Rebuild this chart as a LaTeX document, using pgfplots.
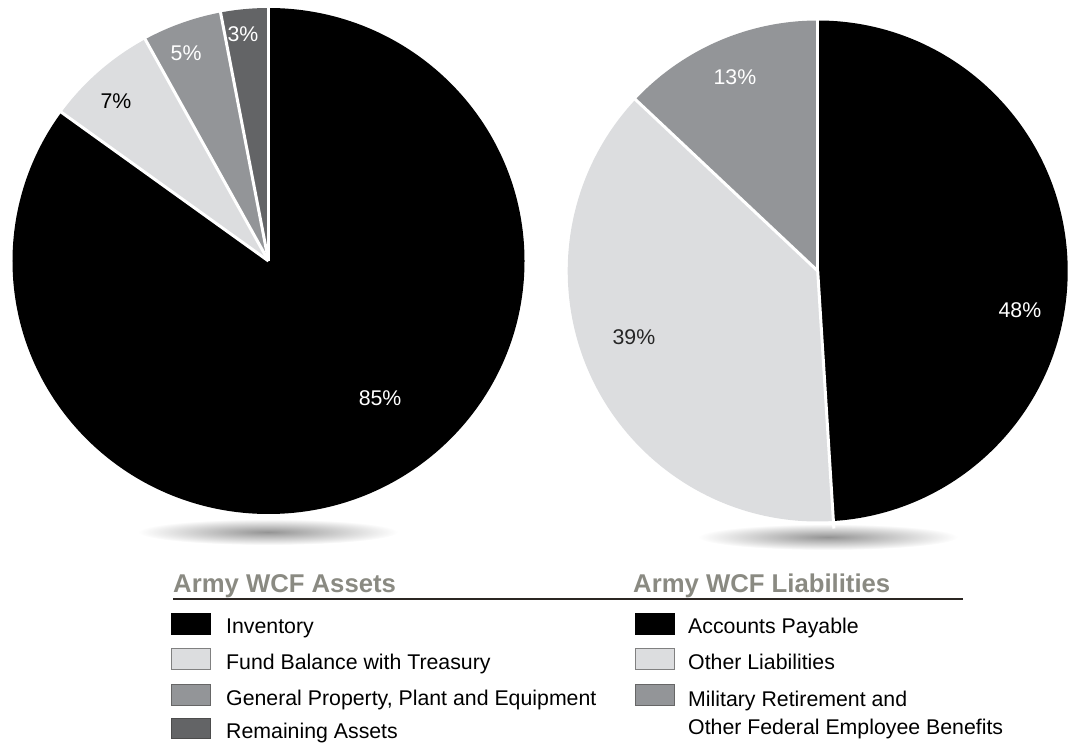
\documentclass[border=0pt]{standalone}
\usepackage{pgfplots}
\pgfplotsset{compat=1.18}
\usepackage{fontspec}
\setmainfont{Liberation Sans}
\definecolor{lightg}{HTML}{DCDDDF}
\definecolor{midg}{HTML}{939598}
\definecolor{darkg}{HTML}{636466}
\definecolor{titleg}{HTML}{8A8A82}
\definecolor{rulec}{HTML}{2B2622}
% #1 = cumulative percent before the slice, #2 = slice percent, #3 = colour
\newcommand{\pieslice}[3]{\fill[#3] (axis cs:0,0) -- (axis cs:{cos(90-3.6*#1)},{sin(90-3.6*#1)}) arc[start angle={90-3.6*#1}, end angle={90-3.6*(#1+#2)}, x radius=\prx, y radius=\pry] -- cycle;}
\newcommand{\piesep}[1]{\draw[white, line width=3pt] (axis cs:0,0) -- (axis cs:{1.03*cos(90-3.6*#1)},{1.03*sin(90-3.6*#1)});}
\newcommand{\lblfont}{\fontsize{21.3}{25}\selectfont}
\begin{document}
\begin{tikzpicture}[x=1pt,y=1pt]
\useasboundingbox (0,0) rectangle (1071,742);
% shadows
\shade[inner color=black!42, outer color=white] (268,210) ellipse [x radius=130, y radius=13];
\shade[inner color=black!42, outer color=white] (828,205) ellipse [x radius=130, y radius=13];
% ---- Assets pie ----
\def\prx{256pt}\def\pry{253pt}
\begin{axis}[hide axis, scale only axis, width=512pt, height=506pt,
  xmin=-1, xmax=1, ymin=-1, ymax=1, clip=false,
  at={(268.5pt,481pt)}, anchor=origin]
\pieslice{0}{85}{black}
\pieslice{85}{7}{lightg}
\pieslice{92}{5}{midg}
\pieslice{97}{3}{darkg}
\piesep{0}\piesep{85}\piesep{92}\piesep{97}
\node[white, font=\lblfont] at (axis cs:0.436,-0.542) {85\%};
\node[black, font=\lblfont] at (axis cs:-0.596,0.632) {7\%};
\node[white, font=\lblfont] at (axis cs:-0.322,0.822) {5\%};
\node[white, font=\lblfont] at (axis cs:-0.10,0.897) {3\%};
\end{axis}
% ---- Liabilities pie ----
\def\prx{250pt}\def\pry{250.5pt}
\begin{axis}[hide axis, scale only axis, width=500pt, height=501pt,
  xmin=-1, xmax=1, ymin=-1, ymax=1, clip=false,
  at={(817.7pt,471pt)}, anchor=origin]
\pieslice{0}{49}{black}
\pieslice{49}{38}{lightg}
\pieslice{87}{13}{midg}
\piesep{0}\piesep{49}\piesep{87}
\node[white, font=\lblfont] at (axis cs:-0.331,0.772) {13\%};
\node[black!85, font=\lblfont] at (axis cs:-0.735,-0.263) {39\%};
\node[white, font=\lblfont] at (axis cs:0.809,-0.156) {48\%};
\end{axis}
% ---- legends ----
\node[anchor=base west, inner sep=0, text=titleg, font=\fontsize{25.7}{30}\bfseries\selectfont] at (173,149) {Army WCF Assets};
\node[anchor=base west, inner sep=0, text=titleg, font=\fontsize{25.7}{30}\bfseries\selectfont] at (633,149) {Army WCF Liabilities};
\draw[rulec, line width=2pt] (173,143) -- (963,143);
\begin{scope}[every node/.style={anchor=base west, inner sep=0, font=\lblfont}]
\filldraw[fill=black, draw=black] (171,108) rectangle (210.5,129);
\filldraw[fill=lightg, draw=black!50, line width=1pt] (171.5,73) rectangle (210,94);
\filldraw[fill=midg, draw=black!60, line width=1pt] (171.5,37) rectangle (210,58);
\filldraw[fill=darkg, draw=black!70, line width=1pt] (171.5,3.5) rectangle (210,24);
\node at (226,108) {Inventory};
\node at (226,73) {Fund Balance with Treasury};
\node at (226,37) {General Property, Plant and Equipment};
\node at (226,4) {Remaining Assets};
\filldraw[fill=black, draw=black] (635,108) rectangle (674.5,129);
\filldraw[fill=lightg, draw=black!50, line width=1pt] (635.5,73) rectangle (674,94);
\filldraw[fill=midg, draw=black!60, line width=1pt] (635.5,37) rectangle (674,58);
\node at (688,109) {Accounts Payable};
\node at (688,73) {Other Liabilities};
\node at (688,36) {Military Retirement and};
\node at (688,8) {Other Federal Employee Benefits};
\end{scope}
\end{tikzpicture}
\end{document}
